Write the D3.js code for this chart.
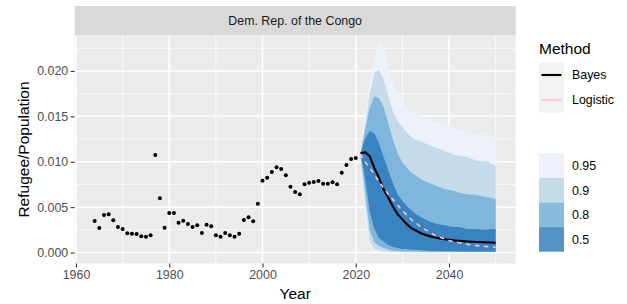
<!DOCTYPE html>
<html>
<head>
<meta charset="utf-8">
<script src="https://cdn.jsdelivr.net/npm/d3@7"></script>
<style>
  html, body { margin: 0; padding: 0; background: #ffffff; }
  svg { display: block; }
  text { font-family: "Liberation Sans", Arial, Helvetica, sans-serif; }
</style>
</head>
<body>
<svg id="chart" width="627" height="304"></svg>
<script>
// ---------------- DATA ----------------
const panelTitle = "Dem. Rep. of the Congo";
const xTitle = "Year";
const yTitle = "Refugee/Population";

const obsYears = [1964,1965,1966,1967,1968,1969,1970,1971,1972,1973,1974,1975,1976,1977,1978,1979,
  1980,1981,1982,1983,1984,1985,1986,1987,1988,1989,1990,1991,1992,1993,1994,1995,1996,1997,1998,1999,
  2000,2001,2002,2003,2004,2005,2006,2007,2008,2009,2010,2011,2012,2013,2014,2015,2016,2017,2018,2019,2020];
const obsValues = [0.00347,0.00270,0.00413,0.00421,0.00355,0.00281,0.00259,0.00212,0.00207,0.00204,0.00179,0.00174,0.00190,
  0.01074,0.00597,0.00273,0.00435,0.00435,0.00328,0.00350,0.00314,0.00281,0.00300,0.00215,0.00306,0.00289,0.00190,0.00174,
  0.00215,0.00190,0.00174,0.00207,0.00358,0.00388,0.00344,0.00538,0.00791,0.00824,0.00887,0.00939,0.00920,0.00851,0.00725,
  0.00667,0.00641,0.00752,0.00769,0.00777,0.00788,0.00758,0.00758,0.00774,0.00752,0.00879,0.00964,0.01030,0.01040];

const projYears = [2021,2022,2023,2024,2025,2026,2027,2028,2029,2030,2031,2032,2033,2034,2035,
  2036,2037,2038,2039,2040,2041,2042,2043,2044,2045,2046,2047,2048,2049,2050];
const bayes = [0.01090,0.01105,0.01060,0.00930,0.00820,0.00695,0.00600,0.00505,0.00420,0.00365,0.00310,0.00265,0.00240,0.00212,0.00192,
  0.00178,0.00166,0.00155,0.00147,0.00140,0.00134,0.00130,0.00126,0.00122,0.00119,0.00116,0.00114,0.00112,0.00110,0.00108];
const logistic = [0.01085,0.01000,0.00930,0.00860,0.00780,0.00710,0.00640,0.00580,0.00520,0.00460,0.00410,0.00360,0.00320,0.00280,0.00250,
  0.00220,0.00190,0.00170,0.00150,0.00132,0.00120,0.00110,0.00100,0.00090,0.00082,0.00076,0.00070,0.00066,0.00062,0.00058];

const upper95 = [0.0109,0.0150,0.0188,0.0212,0.0231,0.0228,0.0204,0.0188,0.0176,0.0166,0.0160,0.0155,0.0152,0.0150,0.0148,
  0.0146,0.0145,0.0143,0.0142,0.0140,0.0138,0.0136,0.0135,0.0133,0.0132,0.0131,0.0129,0.0130,0.0127,0.0125];
const lower95 = [0.0109,0.0042,0.0006,0.0002,0.0001,0.00005,0.00004,0.00003,0.00003,0.00002,0.00002,0.00002,0.00002,0.00002,0.00002,
  0.00002,0.00002,0.00002,0.00002,0.00002,0.00002,0.00002,0.00002,0.00002,0.00002,0.00002,0.00002,0.00002,0.00002,0.00002];
const upper90 = [0.0109,0.0140,0.0175,0.0198,0.0201,0.0190,0.0172,0.0155,0.0145,0.0138,0.0132,0.0127,0.0124,0.0122,0.0120,
  0.0118,0.0116,0.0114,0.0112,0.0110,0.0108,0.0107,0.0106,0.0105,0.0103,0.0101,0.0100,0.0101,0.0098,0.0096];
const lower90 = [0.0109,0.0054,0.0012,0.0004,0.0002,0.0001,0.00008,0.00006,0.00005,0.00004,0.00004,0.00004,0.00004,0.00004,0.00004,
  0.00004,0.00004,0.00004,0.00004,0.00004,0.00004,0.00004,0.00004,0.00004,0.00004,0.00004,0.00004,0.00004,0.00004,0.00004];
const upper80 = [0.0109,0.0135,0.0160,0.0172,0.0170,0.0160,0.0142,0.0124,0.0109,0.0099,0.0093,0.0088,0.0084,0.0081,0.0078,
  0.0076,0.0074,0.0072,0.0070,0.0069,0.0068,0.0066,0.0065,0.0064,0.0064,0.0063,0.0062,0.0061,0.0060,0.0059];
const lower80 = [0.0109,0.0067,0.0025,0.0011,0.0007,0.0005,0.0003,0.0002,0.00018,0.00015,0.00012,0.0001,0.0001,0.00008,0.00008,
  0.00007,0.00007,0.00006,0.00006,0.00006,0.00006,0.00006,0.00006,0.00006,0.00006,0.00006,0.00006,0.00006,0.00006,0.00006];
const upper50 = [0.0109,0.0125,0.0134,0.0131,0.0120,0.0105,0.0090,0.0076,0.0064,0.0057,0.0051,0.0046,0.0042,0.0039,0.0036,
  0.0034,0.0032,0.0031,0.0030,0.0029,0.0028,0.0028,0.0027,0.0026,0.0026,0.0026,0.0025,0.0025,0.0026,0.0026];
const lower50 = [0.0109,0.0082,0.0045,0.0026,0.0016,0.0012,0.0008,0.0006,0.0005,0.0004,0.0004,0.0003,0.0003,0.00025,0.00022,
  0.0002,0.0002,0.00018,0.00016,0.00015,0.00014,0.00013,0.00012,0.00012,0.00011,0.00011,0.0001,0.0001,0.0001,0.0001];

const xTicks = [1960,1980,2000,2020,2040];
const xMinor = [1970,1990,2010,2030,2050];
const yTicks = [0,0.005,0.010,0.015,0.020];
const yMinor = [0.0025,0.0075,0.0125,0.0175,0.0225];

const methodNames = ["Bayes","Logistic"];
const levelNames = ["0.95","0.9","0.8","0.5"];

// ---------------- LAYOUT / STYLE ----------------
const P = { left: 74.6, right: 515.7, top: 35.5, bottom: 263.5 };
const stripTop = 6;
const bandColors = { "0.95": "#edf1fa", "0.9": "#c6dbea", "0.8": "#80b6db", "0.5": "#3a83c1" };
const legendBandColors = { "0.95": "#eef1fb", "0.9": "#c6dbe8", "0.8": "#88bcdd", "0.5": "#5592c6" };
const methodColors = { "Bayes": "#000000", "Logistic": "#ffc0cb" };

const svg = d3.select("#chart");
const x = d3.scaleLinear().domain([1959.7, 2054.3]).range([P.left, P.right]);
const y = d3.scaleLinear().domain([-0.00121, 0.02391]).range([P.bottom, P.top]);

// strip
svg.append("rect").attr("x", P.left).attr("y", stripTop).attr("width", P.right - P.left)
  .attr("height", P.top - stripTop).attr("fill", "#d9d9d9");
svg.append("text").attr("x", (P.left + P.right) / 2).attr("y", (stripTop + P.top) / 2 + 4.3)
  .attr("text-anchor", "middle").attr("font-size", 12.4).attr("fill", "#1a1a1a").text(panelTitle);

// panel
svg.append("rect").attr("x", P.left).attr("y", P.top).attr("width", P.right - P.left)
  .attr("height", P.bottom - P.top).attr("fill", "#ebebeb");

const grid = svg.append("g");
yMinor.forEach(v => grid.append("line").attr("x1", P.left).attr("x2", P.right).attr("y1", y(v)).attr("y2", y(v))
  .attr("stroke", "#ffffff").attr("stroke-width", 0.75));
xMinor.forEach(v => grid.append("line").attr("y1", P.top).attr("y2", P.bottom).attr("x1", x(v)).attr("x2", x(v))
  .attr("stroke", "#ffffff").attr("stroke-width", 0.75));
yTicks.forEach(v => grid.append("line").attr("x1", P.left).attr("x2", P.right).attr("y1", y(v)).attr("y2", y(v))
  .attr("stroke", "#ffffff").attr("stroke-width", 1.5));
xTicks.forEach(v => grid.append("line").attr("y1", P.top).attr("y2", P.bottom).attr("x1", x(v)).attr("x2", x(v))
  .attr("stroke", "#ffffff").attr("stroke-width", 1.5));

// bands
const bands = [
  { level: "0.95", lo: lower95, hi: upper95 },
  { level: "0.9", lo: lower90, hi: upper90 },
  { level: "0.8", lo: lower80, hi: upper80 },
  { level: "0.5", lo: lower50, hi: upper50 }
];
const area = d3.area().x(d => x(d.year)).y0(d => y(d.lo)).y1(d => y(d.hi));
bands.forEach(b => {
  const data = projYears.map((yr, i) => ({ year: yr, lo: b.lo[i], hi: b.hi[i] }));
  svg.append("path").datum(data).attr("d", area).attr("fill", bandColors[b.level]);
});

// lines
const line = d3.line().x(d => x(d.year)).y(d => y(d.v));
svg.append("path").datum(projYears.map((yr, i) => ({ year: yr, v: bayes[i] })))
  .attr("d", line).attr("fill", "none").attr("stroke", methodColors.Bayes).attr("stroke-width", 2.1);
svg.append("path").datum(projYears.map((yr, i) => ({ year: yr, v: logistic[i] })))
  .attr("d", line).attr("fill", "none").attr("stroke", methodColors.Logistic).attr("stroke-width", 1.6)
  .attr("stroke-dasharray", "4.5,4.5");

// points
svg.append("g").selectAll("circle").data(obsYears.map((yr, i) => ({ year: yr, v: obsValues[i] })))
  .join("circle").attr("cx", d => x(d.year)).attr("cy", d => y(d.v)).attr("r", 2).attr("fill", "#000");

// axes
const yAxis = svg.append("g").attr("transform", `translate(${P.left},0)`)
  .call(d3.axisLeft(y).tickValues(yTicks).tickFormat(d3.format(".3f")).tickSize(3.9).tickPadding(2.5));
const xAxis = svg.append("g").attr("transform", `translate(0,${P.bottom})`)
  .call(d3.axisBottom(x).tickValues(xTicks).tickFormat(d3.format("d")).tickSize(3.9).tickPadding(2.5));
[yAxis, xAxis].forEach(a => {
  a.select(".domain").remove();
  a.selectAll(".tick line").attr("stroke", "#333333").attr("stroke-width", 1.1);
  a.selectAll(".tick text").attr("fill", "#4d4d4d").attr("font-size", 12.4)
    .attr("font-family", '"Liberation Sans", Arial, sans-serif');
});

// axis titles
svg.append("text").attr("x", (P.left + P.right) / 2).attr("y", 298.5).attr("text-anchor", "middle")
  .attr("font-size", 15.5).attr("fill", "#000").text(xTitle);
svg.append("text").attr("transform", `translate(28.5,${(P.top + P.bottom) / 2}) rotate(-90)`)
  .attr("text-anchor", "middle").attr("font-size", 15.5).attr("fill", "#000").text(yTitle);

// legend: Method
const L = { x: 539, keyW: 25, keyH: 25 };
svg.append("text").attr("x", L.x).attr("y", 53.5).attr("font-size", 15.5).attr("fill", "#000").text("Method");
methodNames.forEach((m, i) => {
  const ky = 62.5 + i * L.keyH;
  svg.append("rect").attr("x", L.x).attr("y", ky).attr("width", L.keyW).attr("height", L.keyH).attr("fill", "#f2f2f2");
  svg.append("line").attr("x1", L.x + 2.5).attr("x2", L.x + L.keyW - 2.5).attr("y1", ky + L.keyH / 2).attr("y2", ky + L.keyH / 2)
    .attr("stroke", methodColors[m]).attr("stroke-width", m === "Bayes" ? 2.1 : 1.6);
  svg.append("text").attr("x", L.x + L.keyW + 8).attr("y", ky + L.keyH / 2 + 4.3).attr("font-size", 12.4)
    .attr("fill", "#000").text(m);
});

// legend: levels
levelNames.forEach((lv, i) => {
  const ky = 153.3 + i * 24.6;
  svg.append("rect").attr("x", L.x).attr("y", ky).attr("width", L.keyW).attr("height", 24.6).attr("fill", legendBandColors[lv]);
  svg.append("text").attr("x", L.x + L.keyW + 8).attr("y", ky + 12.3 + 4.3).attr("font-size", 12.4)
    .attr("fill", "#000").text(lv);
});
</script>
</body>
</html>
